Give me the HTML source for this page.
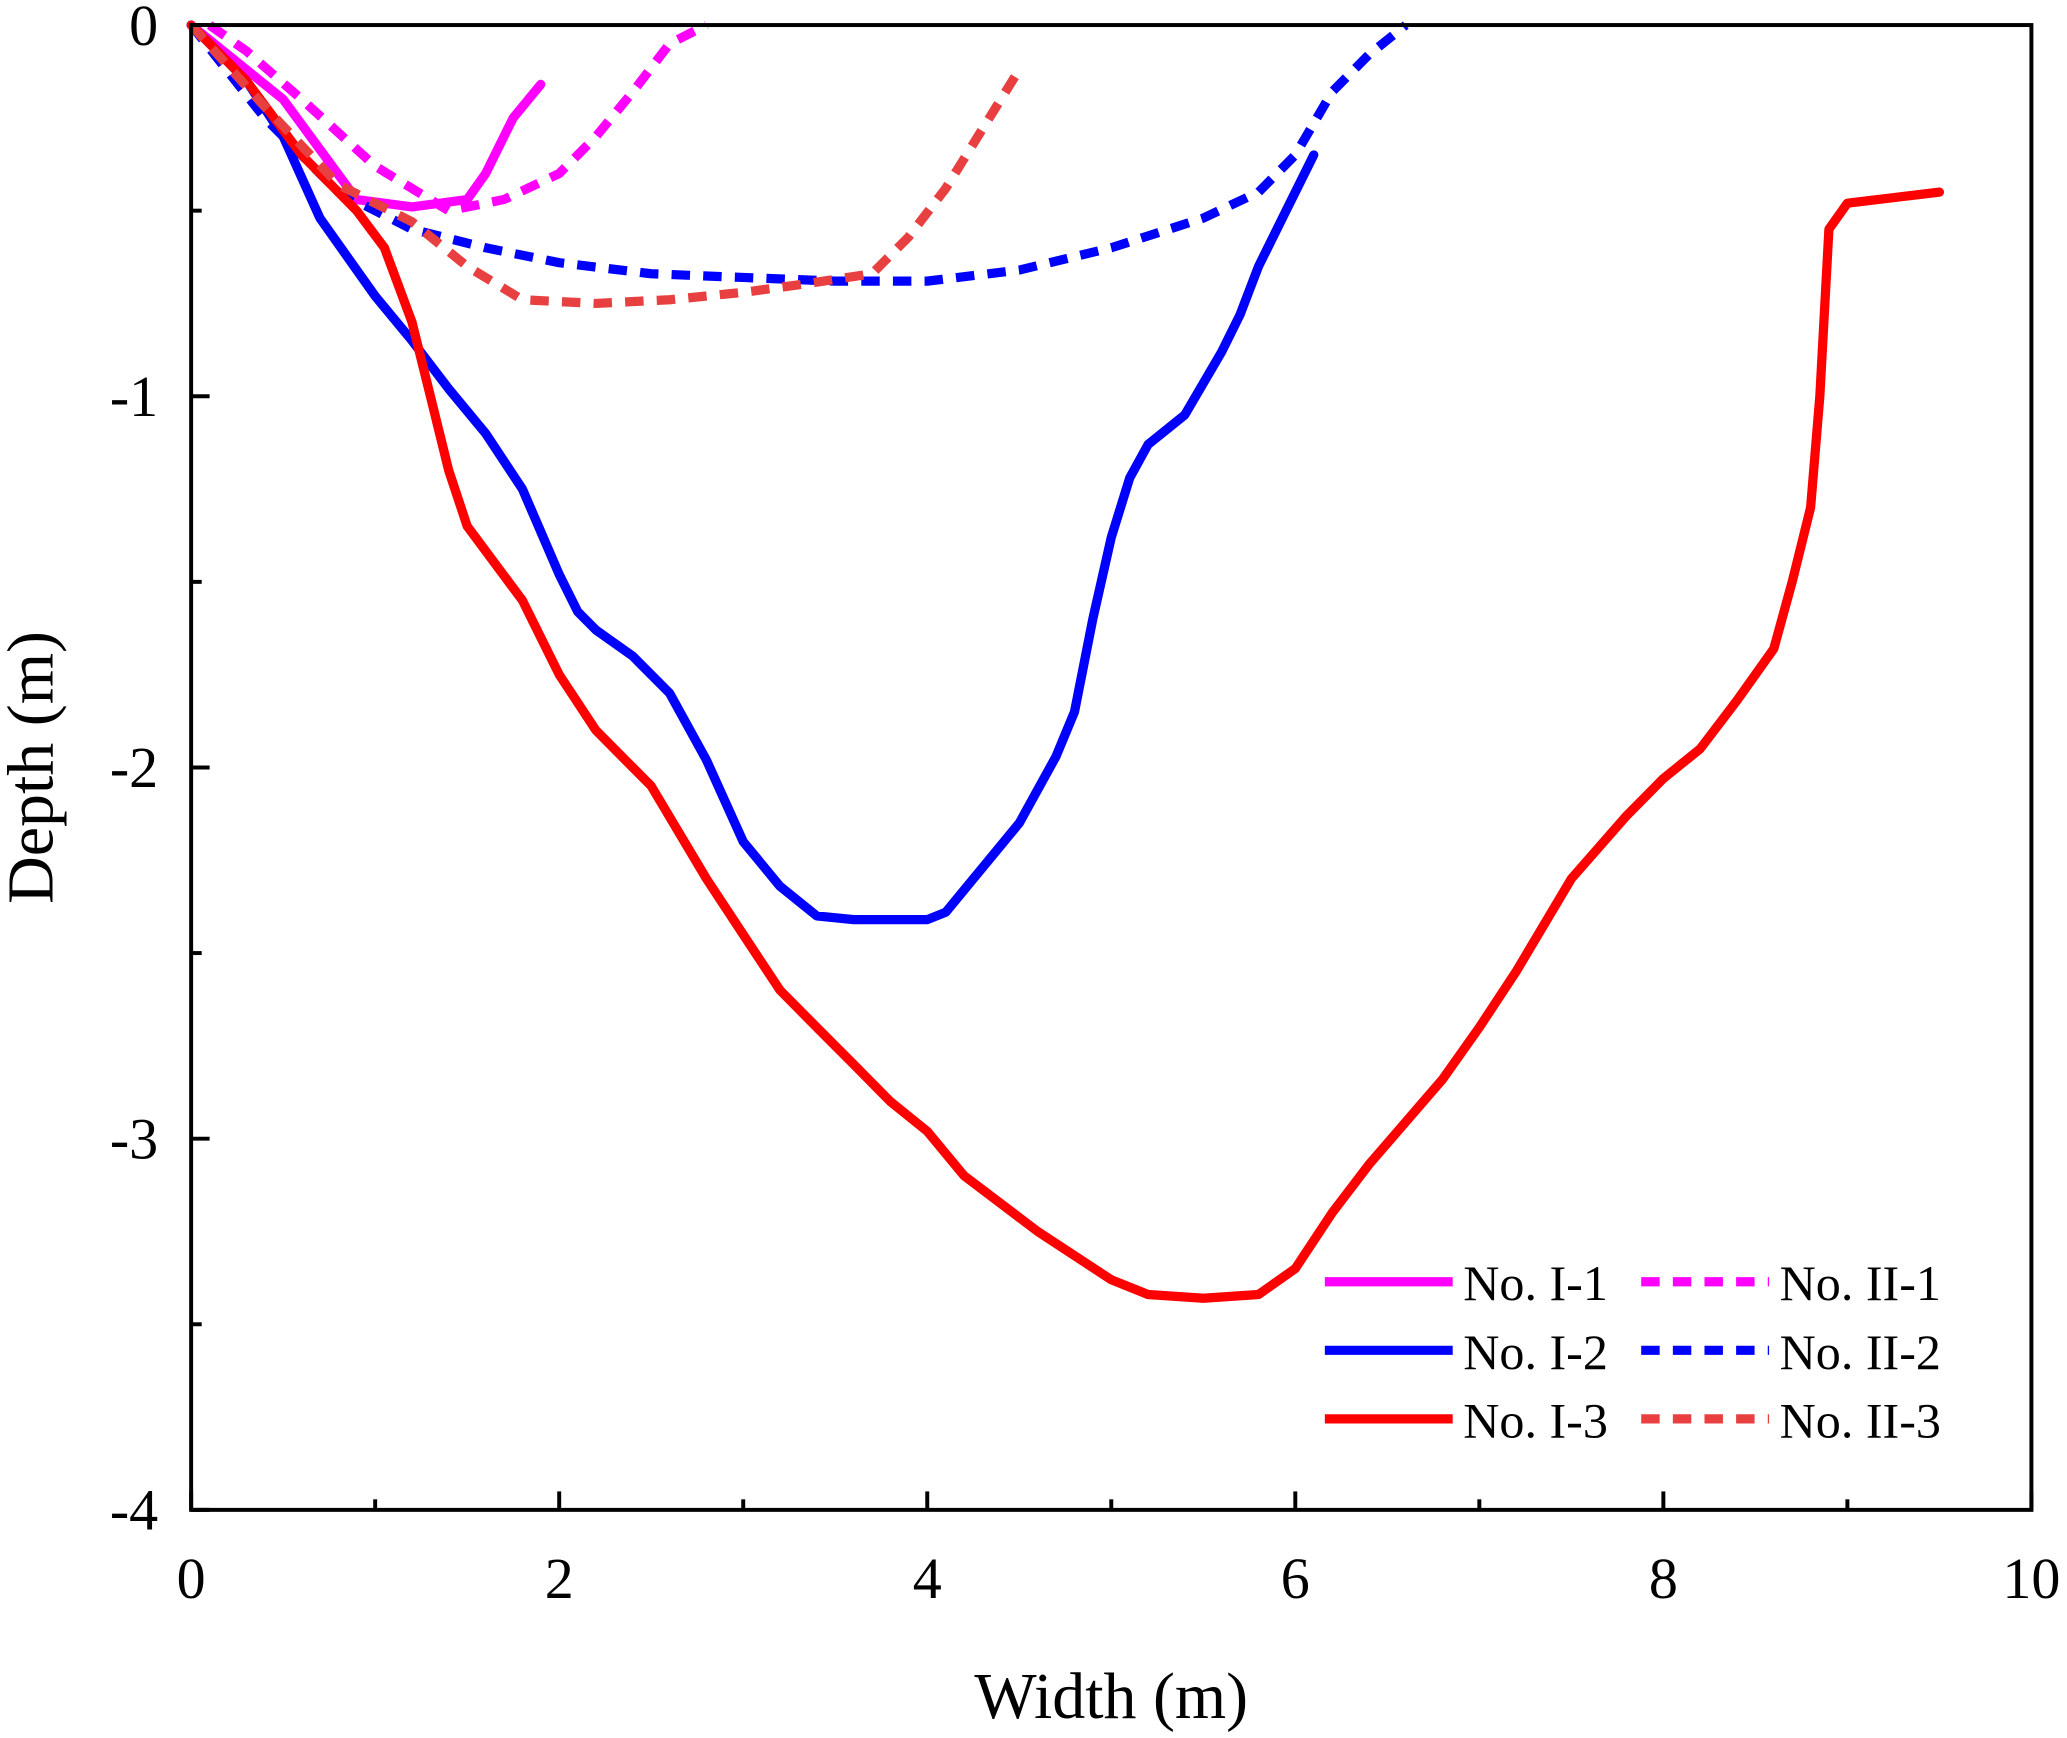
<!DOCTYPE html>
<html><head><meta charset="utf-8"><style>
html,body{margin:0;padding:0;background:#fff;}
svg{display:block;}
text{font-family:"Liberation Serif",serif;fill:#000;}
</style></head><body>
<svg id="chart" width="2067" height="1738" viewBox="0 0 1568 1318" preserveAspectRatio="none" xmlns="http://www.w3.org/2000/svg">
<g id="series"></g>
<rect x="145" y="19" width="1396" height="1126" fill="none" stroke="#000" stroke-width="3"/>
<g id="axes"></g>
<text x="843" y="1303" font-size="50" text-anchor="middle">Width (m)</text>
<text transform="translate(40,582) rotate(-90)" font-size="50" text-anchor="middle">Depth (m)</text>
<g id="legend"></g>
</svg>
<script>
const xTicks=[0,2,4,6,8,10];
const yTicks=[0,-1,-2,-3,-4];
const i1x=[0,0.5,0.9,1.2,1.5,1.6,1.75,1.9];
const i1y=[0,-0.2,-0.47,-0.49,-0.47,-0.4,-0.25,-0.16];
const ii1x=[0.1,0.3,0.6,1.0,1.4,1.7,2.0,2.2,2.4,2.6,2.8];
const ii1y=[0,-0.07,-0.2,-0.38,-0.5,-0.47,-0.4,-0.3,-0.18,-0.05,0];
const i2x=[0,0.3,0.5,0.7,0.9,1.0,1.2,1.4,1.6,1.8,2.0,2.1,2.2,2.4,2.6,2.8,3.0,3.2,3.4,3.6,4.0,4.1,4.3,4.5,4.7,4.8,4.9,5.0,5.1,5.2,5.4,5.6,5.7,5.8,5.95,6.1];
const i2y=[0,-0.15,-0.3,-0.52,-0.66,-0.73,-0.85,-0.98,-1.1,-1.25,-1.48,-1.58,-1.63,-1.7,-1.8,-1.98,-2.2,-2.32,-2.4,-2.41,-2.41,-2.39,-2.27,-2.15,-1.97,-1.85,-1.6,-1.38,-1.22,-1.13,-1.05,-0.88,-0.78,-0.65,-0.5,-0.35];
const ii2x=[0,0.4,0.8,1.2,1.6,2.0,2.5,3.0,3.5,4.0,4.5,5.0,5.5,5.8,6.0,6.2,6.4,6.6];
const ii2y=[0,-0.25,-0.45,-0.55,-0.6,-0.64,-0.67,-0.68,-0.69,-0.69,-0.66,-0.6,-0.52,-0.45,-0.35,-0.18,-0.08,0];
const i3x=[0,0.3,0.6,0.9,1.05,1.2,1.3,1.4,1.5,1.8,2.0,2.2,2.5,2.8,3.0,3.2,3.4,3.6,3.8,4.0,4.2,4.6,5.0,5.2,5.5,5.8,6.0,6.2,6.4,6.8,7.0,7.2,7.5,7.8,8.0,8.2,8.4,8.6,8.7,8.8,8.85,8.9,9.0,9.5];
const i3y=[0,-0.15,-0.35,-0.5,-0.6,-0.8,-1.0,-1.2,-1.35,-1.55,-1.75,-1.9,-2.05,-2.3,-2.45,-2.6,-2.7,-2.8,-2.9,-2.98,-3.1,-3.25,-3.38,-3.42,-3.43,-3.42,-3.35,-3.2,-3.07,-2.84,-2.7,-2.55,-2.3,-2.13,-2.03,-1.95,-1.82,-1.68,-1.5,-1.3,-1.0,-0.55,-0.48,-0.45];
const ii3x=[0,0.4,0.8,1.2,1.5,1.8,2.2,2.6,3.0,3.3,3.7,3.9,4.1,4.3,4.5];
const ii3y=[0,-0.22,-0.43,-0.53,-0.65,-0.74,-0.75,-0.74,-0.72,-0.7,-0.67,-0.57,-0.44,-0.28,-0.12];
const NS="http://www.w3.org/2000/svg";
const X=v=>145+v*139.6, Y=v=>19-v*281.5;
const series=[
 {n:"No. I-1",x:i1x,y:i1y,c:"#ff00ff",d:null,name:"line-no-i-1"},
 {n:"No. II-1",x:ii1x,y:ii1y,c:"#ff00ff",d:"14 10",name:"line-no-ii-1"},
 {n:"No. I-2",x:i2x,y:i2y,c:"#0000ff",d:null,name:"line-no-i-2"},
 {n:"No. II-2",x:ii2x,y:ii2y,c:"#0000ff",d:"14 10",name:"line-no-ii-2"},
 {n:"No. I-3",x:i3x,y:i3y,c:"#ff0000",d:null,name:"line-no-i-3"},
 {n:"No. II-3",x:ii3x,y:ii3y,c:"#e84040",d:"14 10",name:"line-no-ii-3"}];
const sg=document.getElementById('series');
series.forEach(s=>{
 const p=document.createElementNS(NS,'path');
 
 
 p.setAttribute('d',s.x.map((v,i)=>(i?'L':'M')+X(v).toFixed(1)+' '+Y(s.y[i]).toFixed(1)).join(''));
 p.setAttribute('fill','none');p.setAttribute('stroke',s.c);p.setAttribute('stroke-width','7');
 p.setAttribute('stroke-linejoin','round');
 if(s.d)p.setAttribute('stroke-dasharray',s.d);else p.setAttribute('stroke-linecap','round');
 sg.appendChild(p);
});
const ag=document.getElementById('axes');
function line(x1,y1,x2,y2,nm){const l=document.createElementNS(NS,'line');
 
 
 l.setAttribute('x1',x1);l.setAttribute('y1',y1);l.setAttribute('x2',x2);l.setAttribute('y2',y2);
 l.setAttribute('stroke','#000');l.setAttribute('stroke-width','3');ag.appendChild(l);}
function txt(x,y,s,anchor,nm,fs){const t=document.createElementNS(NS,'text');
 
 
 t.setAttribute('x',x);t.setAttribute('y',y);t.setAttribute('font-size',fs||44);t.setAttribute('text-anchor',anchor);t.textContent=s;return t;}
xTicks.forEach((v,i)=>{line(X(v),1145,X(v),1131,'x-tick');ag.appendChild(txt(X(v),1212,String(v),'middle','x-tick-label'));
 if(i<xTicks.length-1){const m=(v+xTicks[i+1])/2;line(X(m),1145,X(m),1137,'x-minor-tick');}});
yTicks.forEach((v,i)=>{line(145,Y(v),159,Y(v),'y-tick');ag.appendChild(txt(120,Y(v)+15,String(v),'end','y-tick-label'));
 if(i<yTicks.length-1){const m=(v+yTicks[i+1])/2;line(145,Y(m),153,Y(m),'y-minor-tick');}});
const lg=document.getElementById('legend');
series.forEach((s,i)=>{const col=i%2,row=Math.floor(i/2);
 const x0=col?1245:1005, y0=972+row*52;
 const l=document.createElementNS(NS,'line');
 
 
 l.setAttribute('x1',x0);l.setAttribute('x2',x0+97);l.setAttribute('y1',y0);l.setAttribute('y2',y0);
 l.setAttribute('stroke',s.c);l.setAttribute('stroke-width','7');if(s.d)l.setAttribute('stroke-dasharray',s.d);
 lg.appendChild(l);
 lg.appendChild(txt(x0+105,y0+14,s.n,'start','legend-label',38));
});
</script>
</body></html>
